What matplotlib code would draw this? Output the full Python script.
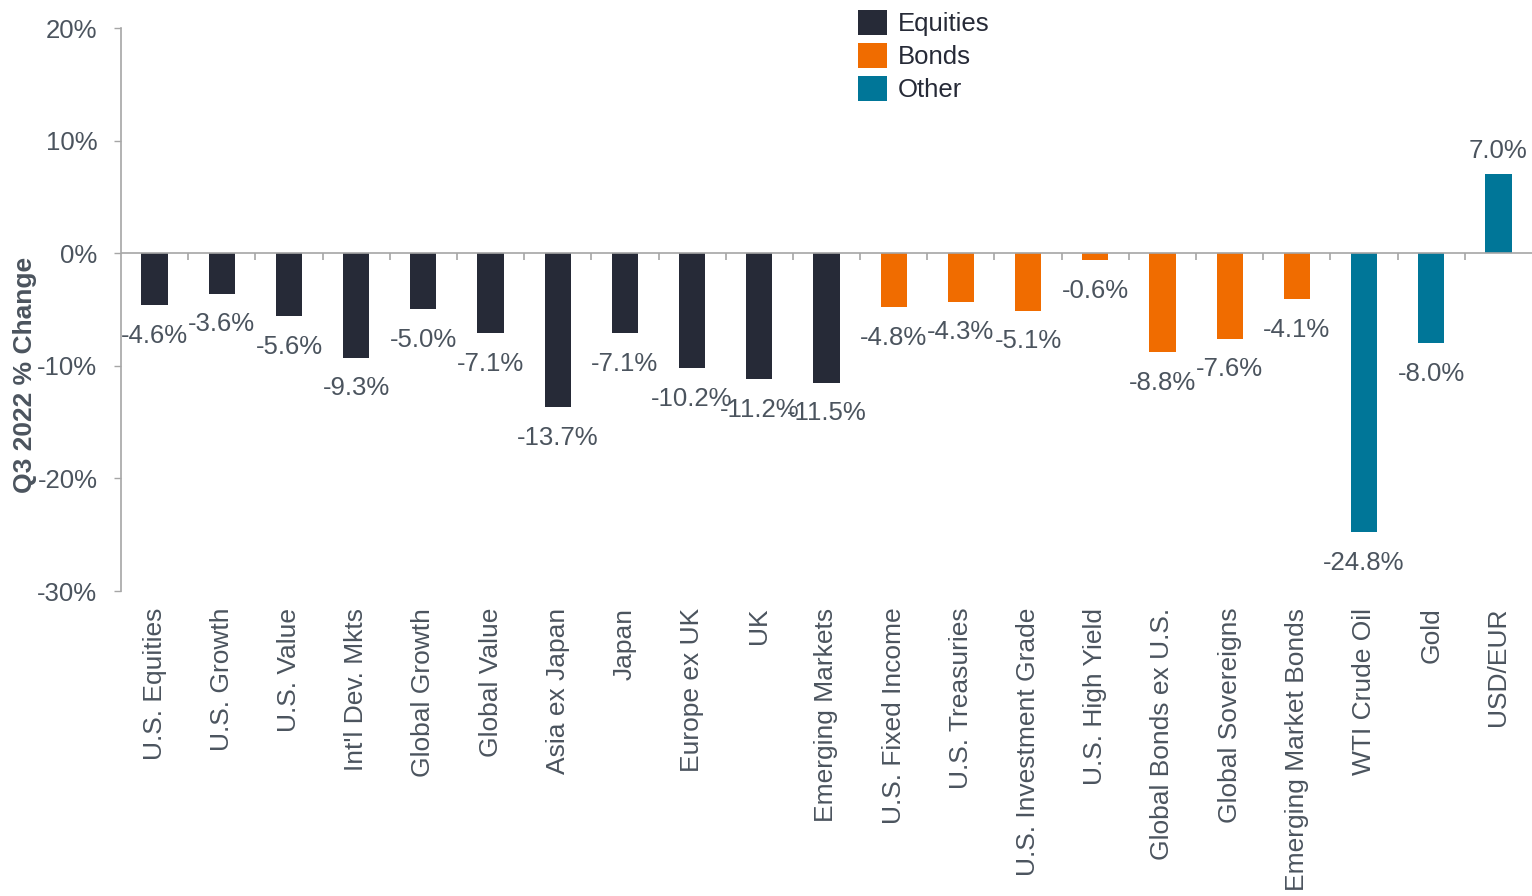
import matplotlib
matplotlib.use("Agg")
import matplotlib.pyplot as plt
from matplotlib.ticker import FuncFormatter

plt.rcParams['font.family'] = ['Liberation Sans', 'DejaVu Sans']

categories = ['U.S. Equities', 'U.S. Growth', 'U.S. Value', "Int'l Dev. Mkts",
              'Global Growth', 'Global Value', 'Asia ex Japan', 'Japan',
              'Europe ex UK', 'UK', 'Emerging Markets', 'U.S. Fixed Income',
              'U.S. Treasuries', 'U.S. Investment Grade', 'U.S. High Yield',
              'Global Bonds ex U.S.', 'Global Sovereigns', 'Emerging Market Bonds',
              'WTI Crude Oil', 'Gold', 'USD/EUR']
values = [-4.6, -3.6, -5.6, -9.3, -5.0, -7.1, -13.7, -7.1, -10.2, -11.2, -11.5,
          -4.8, -4.3, -5.1, -0.6, -8.8, -7.6, -4.1,
          -24.8, -8.0, 7.0]
groups = ['Equities'] * 11 + ['Bonds'] * 7 + ['Other'] * 3
group_names = ['Equities', 'Bonds', 'Other']
colors = {'Equities': '#262A37', 'Bonds': '#F06C00', 'Other': '#007698'}

txt = '#4B545E'
axis_gray = '#A6A6A6'
fs = 18.5

fig = plt.figure(figsize=(15.32, 8.96), dpi=100)
ax = fig.add_axes([121 / 1532, 1 - 591 / 896, 1 - 121 / 1532, (591 - 28) / 896])

for g in group_names:
    idx = [i for i, gg in enumerate(groups) if gg == g]
    ax.bar(idx, [values[i] for i in idx], width=0.39, color=colors[g], label=g)

# data labels (the -11.2% / -11.5% pair overlaps in the original too)
for i, v in enumerate(values):
    off = 17 if v > 0 else -22
    ax.annotate(f'{v:.1f}%', (i, v), xytext=(0, off), textcoords='offset points',
                ha='center', va='center', fontsize=fs, color=txt)

ax.set_xlim(-0.5, len(categories) - 0.5)
ax.set_ylim(-30, 20)
ax.set_yticks([-30, -20, -10, 0, 10, 20])
ax.yaxis.set_major_formatter(FuncFormatter(lambda y, p: f'{y:.0f}%'))
ax.tick_params(axis='y', length=5, width=1, color=axis_gray, pad=12,
               labelsize=fs, labelcolor=txt)

ax.set_xticks(range(len(categories)))
ax.set_xticklabels(categories, rotation=90, fontsize=19, color=txt)
ax.tick_params(axis='x', length=0, pad=12)

for s in ['top', 'right', 'bottom']:
    ax.spines[s].set_visible(False)
ax.spines['left'].set_color(axis_gray)
ax.spines['left'].set_linewidth(1.2)

# zero line with small separators between categories
ax.axhline(0, color=axis_gray, lw=1.2, zorder=1)
ax.vlines([i + 0.5 for i in range(len(categories) - 1)], -0.6, 0,
          color=axis_gray, lw=1.2, zorder=1)

fig.text(25 / 1532, 1 - 375 / 896, 'Q3 2022 % Change', rotation=90,
         ha='center', va='center', fontsize=19, fontweight='bold', color=txt)

leg = ax.legend(loc='upper left', bbox_to_anchor=(845 / 1532, 1 + 3 / 896),
                bbox_transform=fig.transFigure, frameon=False, fontsize=fs,
                handlelength=1.15, handleheight=1.1, labelspacing=0.28,
                handletextpad=0.42, borderpad=0)
for t in leg.get_texts():
    t.set_color('#262A37')

fig.savefig('out.png', dpi=100)
